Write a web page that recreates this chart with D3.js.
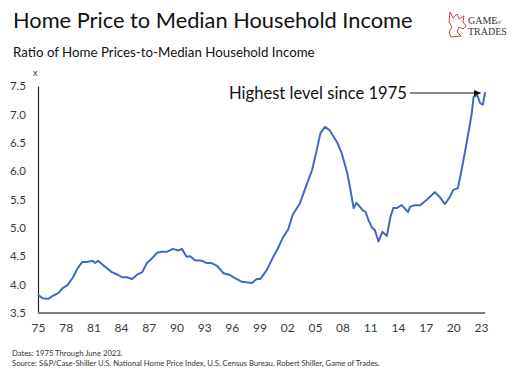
<!DOCTYPE html>
<html>
<head>
<meta charset="utf-8">
<script src="https://cdn.jsdelivr.net/npm/d3@7"></script>
<style>
  body { margin: 0; background: #fff; }
  svg { font-family: "Lato", "Noto Sans", sans-serif; }
  .tick text { fill: #3a3a3a; }
</style>
</head>
<body>
<svg id="chart" width="512" height="372"></svg>
<script>
// year (fractional) and ratio
const years = [1975.0, 1975.5, 1976.1, 1976.6, 1977.2, 1977.7, 1978.2, 1978.8, 1979.3, 1979.8,
  1980.3, 1980.9, 1981.2, 1981.5, 1982.3, 1983.0, 1983.7, 1984.1, 1984.6, 1985.2,
  1985.7, 1986.3, 1986.8, 1987.4, 1987.9, 1988.4, 1989.0, 1989.6, 1990.2, 1990.6,
  1991.1, 1991.5, 1992.0, 1992.8, 1993.3, 1993.8, 1994.4, 1995.1, 1995.8, 1996.3,
  1997.1, 1998.2, 1998.7, 1999.1, 1999.8, 2000.5, 2001.0, 2001.5, 2002.1, 2002.6,
  2003.4, 2003.9, 2004.7, 2005.2, 2005.6, 2006.1, 2006.6, 2007.4, 2007.9, 2008.5,
  2008.8, 2009.2, 2009.5, 2010.2, 2010.5, 2010.8, 2011.2, 2011.5, 2011.9, 2012.3,
  2012.8, 2013.2, 2013.5, 2013.9, 2014.4, 2015.1, 2015.3, 2015.8, 2016.4, 2017.1,
  2018.0, 2018.6, 2019.1, 2019.6, 2020.0, 2020.5, 2020.9, 2021.5, 2022.0, 2022.2,
  2022.6, 2022.9, 2023.2, 2023.45];
const ratio = [3.82, 3.76, 3.75, 3.80, 3.85, 3.94, 3.99, 4.13, 4.29, 4.40,
  4.40, 4.42, 4.38, 4.42, 4.31, 4.22, 4.17, 4.13, 4.13, 4.10,
  4.17, 4.22, 4.38, 4.47, 4.56, 4.58, 4.58, 4.63, 4.60, 4.63,
  4.49, 4.50, 4.43, 4.42, 4.38, 4.38, 4.33, 4.20, 4.17, 4.12,
  4.05, 4.03, 4.10, 4.10, 4.26, 4.49, 4.64, 4.82, 4.97, 5.23,
  5.44, 5.67, 6.02, 6.37, 6.67, 6.78, 6.72, 6.51, 6.32, 5.97,
  5.72, 5.35, 5.44, 5.31, 5.28, 5.14, 5.00, 4.96, 4.76, 4.93,
  4.86, 5.20, 5.35, 5.35, 5.40, 5.28, 5.37, 5.40, 5.40, 5.49,
  5.63, 5.53, 5.42, 5.54, 5.67, 5.70, 6.02, 6.55, 7.02, 7.31,
  7.34, 7.20, 7.17, 7.39];
const yTicks = [3.5, 4.0, 4.5, 5.0, 5.5, 6.0, 6.5, 7.0, 7.5];
const xTicks = [1975, 1978, 1981, 1984, 1987, 1990, 1993, 1996, 1999, 2002, 2005, 2008, 2011, 2014, 2017, 2020, 2023];

const svg = d3.select("#chart");

const x = d3.scaleLinear().domain([1975, 2023]).range([38, 481]);
const y = d3.scaleLinear().domain([3.5, 7.5]).range([313, 86]);

// titles
svg.append("text").attr("x", 13).attr("y", 28)
  .attr("font-size", 21.8).attr("fill", "#111")
  .text("Home Price to Median Household Income");
svg.append("text").attr("x", 13).attr("y", 57)
  .attr("font-size", 13.3).attr("fill", "#111")
  .text("Ratio of Home Prices-to-Median Household Income");

// logo
const logo = svg.append("g").attr("transform", "translate(446,10)");
logo.append("path")
  .attr("d", "M4,2 L7,8 L11,4 L13,9 L18,6 L17,12 L20,16 L17,19 L13,17 L11,22 L15,26 L5,27 L3,22 L6,17 L3,12 Z")
  .attr("fill", "none").attr("stroke", "#b84a3e").attr("stroke-width", 1);
logo.append("text").attr("x", 22).attr("y", 14)
  .attr("font-family", "Liberation Serif, DejaVu Serif, serif")
  .attr("font-size", 10).attr("fill", "#333").text("GAME");
logo.append("text").attr("x", 50).attr("y", 14)
  .attr("font-family", "Liberation Serif, DejaVu Serif, serif")
  .attr("font-size", 4).attr("fill", "#333").text("OF");
logo.append("text").attr("x", 22).attr("y", 25)
  .attr("font-family", "Liberation Serif, DejaVu Serif, serif")
  .attr("font-size", 10).attr("fill", "#333").text("TRADES");

// y axis
const yAxis = svg.append("g").attr("transform", "translate(38,0)")
  .call(d3.axisLeft(y).tickValues(yTicks).tickFormat(d3.format(".1f")).tickSize(0).tickPadding(12));
yAxis.select(".domain").attr("stroke", "#222").attr("stroke-width", 1.2);
yAxis.selectAll("text").attr("font-size", 11.5).attr("font-family", "Lato, sans-serif");

svg.append("text").attr("x", 33).attr("y", 76)
  .attr("font-size", 9).attr("fill", "#333").text("x");

// x axis
const xAxis = svg.append("g").attr("transform", "translate(0,313)")
  .call(d3.axisBottom(x).tickValues(xTicks)
    .tickFormat(d => String(d % 100).padStart(2, "0")).tickSize(0).tickPadding(10));
xAxis.select(".domain").attr("d", `M${x(1975)},0H${x(2023.45)}`)
  .attr("stroke", "#7f7f7f").attr("stroke-width", 2.2);
xAxis.selectAll("text").attr("font-size", 12).attr("font-family", "Lato, sans-serif");

// line
const pts = years.map((d, i) => [d, ratio[i]]);
svg.append("path").datum(pts)
  .attr("fill", "none").attr("stroke", "#4169c1").attr("stroke-width", 2)
  .attr("stroke-linejoin", "round")
  .attr("d", d3.line().x(d => x(d[0])).y(d => y(d[1])));

// annotation
svg.append("defs").append("marker").attr("id", "arr")
  .attr("viewBox", "0 0 10 10").attr("refX", 9).attr("refY", 5)
  .attr("markerWidth", 6).attr("markerHeight", 6).attr("orient", "auto")
  .append("path").attr("d", "M0,1 L10,5 L0,9 Z").attr("fill", "#111");
svg.append("text").attr("x", 407).attr("y", 99).attr("text-anchor", "end")
  .attr("font-size", 16.6).attr("fill", "#111").text("Highest level since 1975");
svg.append("line").attr("x1", 410).attr("x2", x(2022.95)).attr("y1", 93).attr("y2", 93)
  .attr("stroke", "#111").attr("stroke-width", 1.2).attr("marker-end", "url(#arr)");

// footer
svg.append("text").attr("x", 12).attr("y", 356)
  .attr("font-size", 7.7).attr("fill", "#333").text("Dates: 1975 Through June 2023.");
svg.append("text").attr("x", 12).attr("y", 366)
  .attr("font-size", 7.7).attr("fill", "#333")
  .text("Source: S&P/Case-Shiller U.S. National Home Price Index, U.S. Census Bureau, Robert Shiller, Game of Trades.");
</script>
</body>
</html>
